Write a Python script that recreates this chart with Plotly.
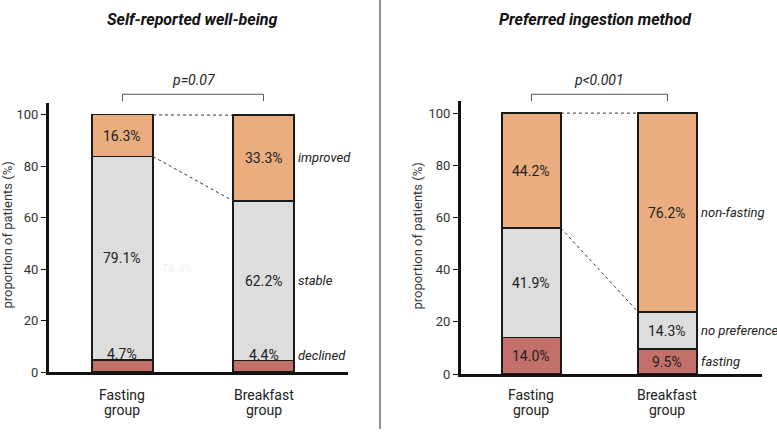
import plotly.graph_objects as go

# ---- data ----
groups = ["Fasting<br>group", "Breakfast<br>group"]
wb_categories = ["declined", "stable", "improved"]
wb_declined = [4.7, 4.4]
wb_stable = [79.1, 62.2]
wb_improved = [16.3, 33.3]
ing_categories = ["fasting", "no preference", "non-fasting"]
ing_fasting = [14.0, 9.5]
ing_nopref = [41.9, 14.3]
ing_nonfasting = [44.2, 76.2]
titles = ["Self-reported well-being", "Preferred ingestion method"]
pvalues = ["p=0.07", "p<0.001"]
yticks = [0, 20, 40, 60, 80, 100]

C_ORANGE = "#E9AD7F"
C_GRAY = "#DDDDDD"
C_RED = "#C4706A"
colors = [C_RED, C_GRAY, C_ORANGE]
FONT = "Roboto"
W, H = 777, 437

fig = go.Figure()
xs = [0, 1]
BW = 0.433

panels = [
    dict(xa="x", ya="y", series=[wb_declined, wb_stable, wb_improved], cats=wb_categories),
    dict(xa="x2", ya="y2", series=[ing_fasting, ing_nopref, ing_nonfasting], cats=ing_categories),
]

for p in panels:
    for s, col in zip(p["series"], colors):
        fig.add_trace(go.Bar(x=xs, y=s, width=BW, marker=dict(color=col, line=dict(color="#1a1a1a", width=1.5)),
                             xaxis=p["xa"], yaxis=p["ya"], showlegend=False, hoverinfo="skip"))

fig.update_layout(barmode="stack", width=W, height=H, margin=dict(l=0, r=0, t=0, b=0),
                  plot_bgcolor="white", paper_bgcolor="white",
                  font=dict(family=FONT, color="#222"))

axis_common_y = dict(range=[0, 104.6], tickvals=yticks, ticks="outside", ticklen=5, tickwidth=1, tickcolor="#111",
                     showline=True, linewidth=3, linecolor="#111", showgrid=False, zeroline=False,
                     tickfont=dict(size=13, color="#333", family=FONT))
axis_common_x = dict(tickvals=xs, showticklabels=False, ticks="", showline=True, linewidth=3, linecolor="#111",
                     showgrid=False, zeroline=False)

fig.update_layout(
    xaxis=dict(domain=[49 / W, 348 / W], range=[-0.521, 1.599], anchor="y", **axis_common_x),
    yaxis=dict(domain=[(H - 379) / H, (H - 105) / H], anchor="x", **axis_common_y),
    xaxis2=dict(domain=[461 / W, 762 / W], range=[-0.518, 1.695], anchor="y2", **axis_common_x),
    yaxis2=dict(domain=[(H - 381) / H, (H - 103) / H], anchor="x2", **axis_common_y),
)

shapes = []
annotations = []
title_x = [192 / W, 595 / W]
ylabel_x = [8 / W, 418 / W]
for i, p in enumerate(panels):
    xa, ya = p["xa"], p["ya"]
    d, st, top = p["series"]
    # group labels (two tight lines)
    for j, g in enumerate(groups):
        for li, line in enumerate(g.split("<br>")):
            annotations.append(dict(xref=xa, yref="paper", x=xs[j], y=(H - (402 + 16 * li)) / H,
                                    xanchor="center", yanchor="middle", text=line, showarrow=False,
                                    font=dict(size=14, color="#222", family=FONT)))
    # dotted connectors
    for yl in [[d[0] + st[0] + top[0], d[1] + st[1] + top[1]], [d[0] + st[0], d[1] + st[1]]]:
        shapes.append(dict(type="line", xref=xa, yref=ya, x0=xs[0] + BW / 2, x1=xs[1] - BW / 2,
                           y0=min(yl[0], 100), y1=min(yl[1], 100),
                           line=dict(color="#333", width=1, dash="dot")))
    # bracket
    yb_top = (H - 96) / H
    yb_bot = (H - 103) / H
    shapes.append(dict(type="path", xref=xa, yref="paper",
                       path=f"M {xs[0]},{yb_bot} L {xs[0]},{yb_top} L {xs[1]},{yb_top} L {xs[1]},{yb_bot}",
                       line=dict(color="#555", width=1)))
    annotations.append(dict(xref=xa, yref="paper", x=0.5, y=(H - 82) / H, xanchor="center", yanchor="middle",
                            text=f"<i>{pvalues[i]}</i>",
                            showarrow=False, font=dict(size=14, color="#222", family=FONT)))
    annotations.append(dict(xref="paper", yref="paper", x=title_x[i], y=(H - 20) / H, xanchor="center",
                            yanchor="middle", text=f"<b><i>{titles[i]}</i></b>",
                            showarrow=False, font=dict(size=16, color="#111", family=FONT)))
    annotations.append(dict(xref="paper", yref="paper", x=ylabel_x[i], y=(H - 240) / H, xanchor="center",
                            yanchor="middle", text="proportion of patients (%)",
                            textangle=-90, showarrow=False, font=dict(size=13, color="#333", family=FONT)))
    # value labels
    for j in range(2):
        base = 0
        for k, s in enumerate(p["series"]):
            v = s[j]
            if i == 0 and k == 0:
                annotations.append(dict(xref=xa, yref=ya, x=xs[j], y=v, yanchor="bottom", yshift=-4,
                                        text=f"{v:.1f}%", showarrow=False, font=dict(size=14, color="#222")))
            else:
                annotations.append(dict(xref=xa, yref=ya, x=xs[j], y=base + v / 2, text=f"{v:.1f}%",
                                        showarrow=False, font=dict(size=14, color="#222")))
            if j == 1:
                if i == 0 and k == 0:
                    yy, ya_anchor, ysh = v, "bottom", -4
                else:
                    yy, ya_anchor, ysh = base + v / 2, "middle", 0
                annotations.append(dict(xref=xa, yref=ya, x=xs[1] + BW / 2, xshift=2, xanchor="left", y=yy,
                                        yanchor=ya_anchor, yshift=ysh, text=f"<i>{p['cats'][k]}</i>",
                                        showarrow=False, font=dict(size=13, color="#222")))
            base += v

# faint ghost label
annotations.append(dict(xref="paper", yref="paper", x=177 / W, y=(H - 274) / H, xanchor="center", yanchor="middle",
                        text="74.4%", showarrow=False, font=dict(size=12, color="#f1f1f1")))

# divider line
shapes.append(dict(type="line", xref="paper", yref="paper", x0=380 / W, x1=380 / W, y0=0, y1=1,
                   line=dict(color="#222", width=1)))

fig.update_layout(shapes=shapes, annotations=annotations)
fig.write_html("out.html")
